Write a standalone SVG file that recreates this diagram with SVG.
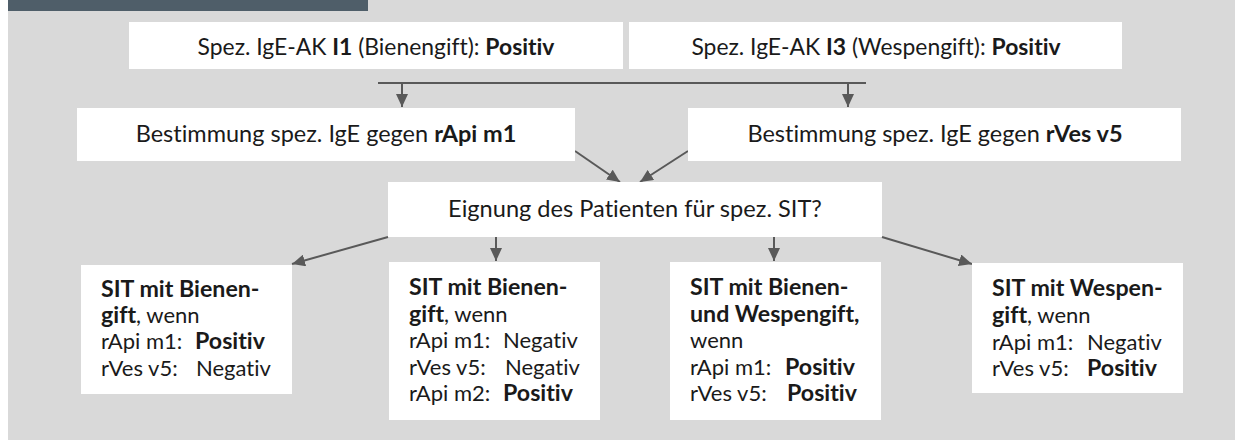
<svg xmlns="http://www.w3.org/2000/svg" width="1235" height="440" viewBox="0 0 1235 440">
<style>
.bg{fill:#d9d9d9}
.box{fill:#ffffff}
.t{font-family:Lato,"Noto Sans","Liberation Sans",sans-serif;font-size:22px;fill:#1a1a1a;font-variant-ligatures:none;font-feature-settings:"liga" 0}
.c{text-anchor:middle}
.b{font-weight:bold}
.bb{font-weight:bold;font-size:23.2px}
.ln{stroke:#595959;stroke-width:2;fill:none}
</style>
<defs>
<marker id="ah" viewBox="0 0 13 12" markerWidth="13" markerHeight="12" markerUnits="userSpaceOnUse" refX="13" refY="6" orient="auto">
<path d="M0,0 L13,6 L0,12 z" fill="#595959"/>
</marker>
</defs>
<rect class="bg" x="8" y="0" width="1227" height="440"/>
<rect x="8" y="0" width="360" height="11" fill="#4f5e69"/>

<g id="connectors">
<line class="ln" x1="378" y1="83" x2="866" y2="83"/>
<line class="ln" x1="402" y1="83" x2="402" y2="107" marker-end="url(#ah)"/>
<line class="ln" x1="848" y1="83" x2="848" y2="107" marker-end="url(#ah)"/>
<line class="ln" x1="575" y1="151" x2="620" y2="182" marker-end="url(#ah)"/>
<line class="ln" x1="688" y1="151" x2="640" y2="182" marker-end="url(#ah)"/>
<line class="ln" x1="388" y1="237" x2="292" y2="264" marker-end="url(#ah)"/>
<line class="ln" x1="496" y1="237" x2="496" y2="261" marker-end="url(#ah)"/>
<line class="ln" x1="774" y1="237" x2="774" y2="261" marker-end="url(#ah)"/>
<line class="ln" x1="882" y1="237" x2="972" y2="264" marker-end="url(#ah)"/>
</g>

<g id="n_i1">
<rect class="box" x="129" y="22" width="494" height="47"/>
<text class="t c" x="376" y="55" style="font-size:22.9px">Spez. IgE-AK <tspan class="b">I1</tspan> (Bienengift): <tspan class="b">Positiv</tspan></text>
</g>
<g id="n_i3">
<rect class="box" x="629" y="22" width="493" height="47"/>
<text class="t c" x="876" y="55" style="font-size:22.9px">Spez. IgE-AK <tspan class="b">I3</tspan> (Wespengift): <tspan class="b">Positiv</tspan></text>
</g>
<g id="n_rapi">
<rect class="box" x="77" y="108" width="498" height="53"/>
<text class="t c" x="326" y="142" style="font-size:23.5px">Bestimmung spez. IgE gegen <tspan class="b">rApi m1</tspan></text>
</g>
<g id="n_rves">
<rect class="box" x="688" y="108" width="493" height="53"/>
<text class="t c" x="935" y="142" style="font-size:23.5px">Bestimmung spez. IgE gegen <tspan class="b">rVes v5</tspan></text>
</g>
<g id="n_eignung">
<rect class="box" x="388" y="182" width="494" height="55"/>
<text class="t c" x="635" y="217" style="font-size:23.6px">Eignung des Patienten für spez. SIT?</text>
</g>

<g id="n_sit1">
<rect class="box" x="81" y="265" width="211" height="129"/>
<text class="t bb" x="101" y="297">SIT mit Bienen-</text>
<text class="t" x="101" y="323"><tspan class="bb">gift</tspan>, wenn</text>
<text class="t" x="101" y="349">rApi m1:</text><text class="t bb" x="195" y="349">Positiv</text>
<text class="t" x="101" y="376">rVes v5:</text><text class="t" x="196" y="376">Negativ</text>
</g>
<g id="n_sit2">
<rect class="box" x="389" y="262" width="211" height="158"/>
<text class="t bb" x="409" y="295">SIT mit Bienen-</text>
<text class="t" x="409" y="322"><tspan class="bb">gift</tspan>, wenn</text>
<text class="t" x="409" y="348">rApi m1:</text><text class="t" x="503" y="348">Negativ</text>
<text class="t" x="409" y="375">rVes v5:</text><text class="t" x="505" y="375">Negativ</text>
<text class="t" x="409" y="401">rApi m2:</text><text class="t bb" x="503" y="401">Positiv</text>
</g>
<g id="n_sit3">
<rect class="box" x="670" y="262" width="211" height="158"/>
<text class="t bb" x="690" y="295">SIT mit Bienen-</text>
<text class="t bb" x="690" y="322">und Wespengift,</text>
<text class="t" x="690" y="348">wenn</text>
<text class="t" x="690" y="375">rApi m1:</text><text class="t bb" x="785" y="375">Positiv</text>
<text class="t" x="690" y="401">rVes v5:</text><text class="t bb" x="787" y="401">Positiv</text>
</g>
<g id="n_sit4">
<rect class="box" x="972" y="263" width="211" height="130"/>
<text class="t bb" x="992" y="296">SIT mit Wespen-</text>
<text class="t" x="992" y="323"><tspan class="bb">gift</tspan>, wenn</text>
<text class="t" x="992" y="350">rApi m1:</text><text class="t" x="1087" y="350">Negativ</text>
<text class="t" x="992" y="376">rVes v5:</text><text class="t bb" x="1087" y="376">Positiv</text>
</g>
</svg>
